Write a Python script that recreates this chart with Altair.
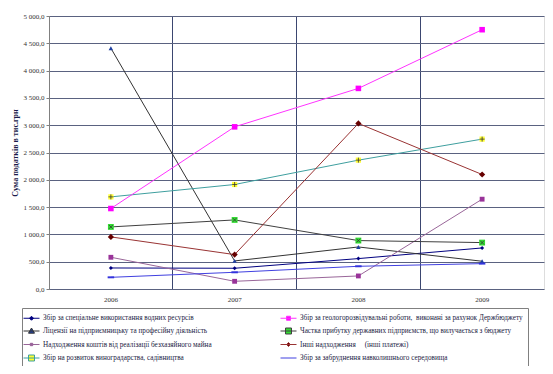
import altair as alt
import pandas as pd

years = ["2006", "2007", "2008", "2009"]
series = [
    "Збір за спеціальне використання водних ресурсів",
    "Ліцензії на підприємницьку та професійну діяльність",
    "Надходження коштів від реалізації безхазяйного майна",
    "Збір на розвиток виноградарства, садівництва",
    "Збір за геологорозвідувальні роботи,\u00a0 виконані за рахунок Держбюджету",
    "Частка прибутку державних підприємств, що вилучається з бюджету",
    "Інші надходження\u00a0\u00a0\u00a0\u00a0 (інші платежі)",
    "Збір за забруднення навколишнього середовища",
]
water = [385, 380, 557, 752]
licenses = [4410, 514, 770, 508]
property_ = [581, 141, 239, 1645]
viticulture = [1687, 1914, 2360, 2745]
geology = [1474, 2970, 3674, 4749]
profit = [1137, 1265, 887, 850]
other = [954, 630, 3032, 2097]
pollution = [214, 306, 416, 465]
all_values = [water, licenses, property_, viticulture, geology, profit, other, pollution]
y_ticks = [0, 500, 1000, 1500, 2000, 2500, 3000, 3500, 4000, 4500, 5000]

line_colors = ["#000080", "#333333", "#996699", "#3f9f9f", "#ff33ff", "#404040", "#993333", "#4040e0"]
marker_fills = ["#000080", "#2040a0", "#993399", "#ffff33", "#ff00ff", "#33dd33", "#660000", "#3333dd"]
marker_shapes = ["diamond", "triangle-up", "square", "square", "square", "square", "diamond",
                 "M-1,-0.3H1V0.3H-1Z"]
marker_sizes = [16, 42, 9, 64, 20, 45, 14, 16]
legend_shapes = [
    "M-2,0H2M0,-0.5L0.5,0L0,0.5L-0.5,0Z",
    "M-2,0H2M0,-0.75L0.75,0.55H-0.75Z",
    "M-2,0H2M-0.3,-0.3H0.3V0.3H-0.3Z",
    "M-2,0H2M-0.75,-0.75H0.75V0.75H-0.75Z",
    "M-2,0H2M-0.5,-0.5H0.5V0.5H-0.5Z",
    "M-2,0H2M-0.75,-0.75H0.75V0.75H-0.75Z",
    "M-2,0H2M0,-0.5L0.5,0L0,0.5L-0.5,0Z",
    "M-2,0H2",
]

dom = series

rows = []
for s, vals in zip(series, all_values):
    for yr, v in zip(years, vals):
        rows.append({"series": s, "year": yr, "value": v})
df = pd.DataFrame(rows)

FONT = "Liberation Serif"
W, H = 495, 273
xscale = alt.Scale(type="band", domain=years, paddingInner=0, paddingOuter=0)
yscale = alt.Scale(domain=[0, 5000], nice=False)

x_main = alt.X("year:N", scale=xscale,
               axis=alt.Axis(title=None, grid=True, bandPosition=0, gridColor="#3b4670", gridWidth=1,
                             ticks=False, domain=False, labelAngle=0,
                             labelPadding=6, labelFont=FONT, labelFontSize=7, labelColor="#333333"))
y_main = alt.Y("value:Q", scale=yscale,
               axis=alt.Axis(values=y_ticks,
                             labelExpr="replace(replace(format(datum.value, ',.1f'), ',', ' '), '.', ',')",
                             grid=True, gridColor="#5a6280", gridWidth=1, tickSize=3, tickColor="#808080",
                             domainColor="#808080", labelFont=FONT, labelFontSize=7, labelColor="#333333",
                             labelPadding=2, title="Сума податків в тис.грн", titleFont=FONT,
                             titleFontSize=8, titleFontWeight="bold", titleColor="#1a1a4a",
                             titlePadding=4))

lines = alt.Chart(df).mark_line(strokeWidth=1).encode(
    x=x_main, y=y_main,
    color=alt.Color("series:N", scale=alt.Scale(domain=dom, range=line_colors), legend=None),
    detail="series:N",
)

points = alt.Chart(df).mark_point(filled=True, opacity=1, strokeWidth=0).encode(
    x=x_main, y=y_main,
    fill=alt.Fill("series:N", scale=alt.Scale(domain=dom, range=marker_fills), legend=None),
    shape=alt.Shape("series:N", scale=alt.Scale(domain=dom, range=marker_shapes), legend=None),
    size=alt.Size("series:N", scale=alt.Scale(domain=dom, range=marker_sizes), legend=None),
)

plus = alt.Chart(df).transform_filter(alt.datum.series == series[3]).mark_point(
    shape="M-1,0H1M0,-1V1", size=25, stroke="#333333", strokeWidth=0.8, filled=False, opacity=1
).encode(x=x_main, y=y_main)

cross = alt.Chart(df).transform_filter(alt.datum.series == series[5]).mark_point(
    shape="M-1,-1L1,1M-1,1L1,-1", size=14, stroke="#333333", strokeWidth=0.8, filled=False, opacity=1
).encode(x=x_main, y=y_main)

leg = dict(title=None, orient="none", legendX=-27, legendY=292, columns=2)
legend_layer = alt.Chart(df).transform_filter(alt.datum.value < -1).mark_point(
    filled=True, opacity=1, strokeWidth=1
).encode(
    shape=alt.Shape("series:N", scale=alt.Scale(domain=dom, range=legend_shapes),
                    legend=alt.Legend(**leg, columnPadding=12, rowPadding=2.5, symbolSize=64,
                                      gridAlign="all",
                                      symbolStrokeWidth=1, labelOffset=7, labelFont=FONT,
                                      labelFontSize=7.2, labelColor="#222244", labelLimit=400, padding=5,
                                      strokeColor="#808080", fillColor="white")),
    fill=alt.Fill("series:N", scale=alt.Scale(domain=dom, range=marker_fills), legend=alt.Legend(**leg)),
    stroke=alt.Stroke("series:N", scale=alt.Scale(domain=dom, range=line_colors), legend=alt.Legend(**leg)),
)

chart = alt.layer(lines, points, plus, cross, legend_layer).resolve_scale(
    shape="independent", fill="independent", stroke="independent"
).properties(
    width=W, height=H,
    autosize=alt.AutoSizeParams(type="none"),
    padding={"left": 41, "top": 8, "right": 1, "bottom": 77},
).configure_view(stroke="#808080", strokeWidth=1).configure(background="white")

chart.save("out.html", embed_options={"renderer": "svg", "actions": False})
